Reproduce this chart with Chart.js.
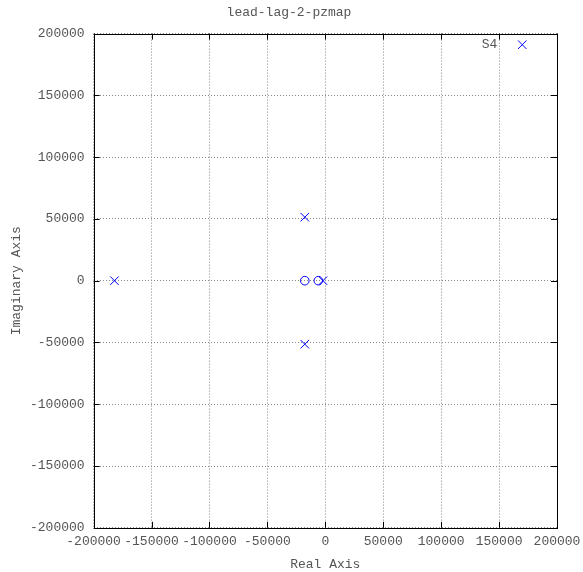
<!DOCTYPE html>
<html><head><meta charset="utf-8">
<script src="https://cdn.jsdelivr.net/npm/chart.js@4"></script>
<style>html,body{margin:0;padding:0;background:#fff}</style>
</head><body>
<canvas id="c" width="583" height="572"></canvas>
<script>
const chartTitle = 'lead-lag-2-pzmap';
const xTitle = 'Real Axis';
const yTitle = 'Imaginary Axis';
const poleReal = [-182000, -17700, -17700, -2000, 170000];
const poleImag = [0, 51400, -51400, 0, 191000];
const zeroReal = [-17700, -6000];
const zeroImag = [0, 0];
const axisTicks = [-200000, -150000, -100000, -50000, 0, 50000, 100000, 150000, 200000];
const pointLabels = [{x: 170000, y: 191000, text: 'S4'}];

const FONT = 'Liberation Mono';
const TXT = '#555555';

const poles = poleReal.map((x, i) => ({x, y: poleImag[i]}));
const zeros = zeroReal.map((x, i) => ({x, y: zeroImag[i]}));

const frame = {
  id: 'frame',
  afterDatasetsDraw(chart) {
    const {ctx, chartArea: a, scales: {x, y}} = chart;
    ctx.save();
    ctx.strokeStyle = '#000';
    ctx.lineWidth = 1;
    ctx.beginPath();
    const L = 6;
    axisTicks.forEach(v => {
      const px = Math.round(x.getPixelForValue(v)) + 0.5;
      ctx.moveTo(px, a.bottom); ctx.lineTo(px, a.bottom - L);
      ctx.moveTo(px, a.top); ctx.lineTo(px, a.top + L);
      const py = Math.round(y.getPixelForValue(v)) + 0.5;
      ctx.moveTo(a.left, py); ctx.lineTo(a.left + L, py);
      ctx.moveTo(a.right, py); ctx.lineTo(a.right - L, py);
    });
    ctx.stroke();
    ctx.strokeRect(Math.round(a.left) + 0.5, Math.round(a.top) + 0.5,
      Math.round(a.right - a.left), Math.round(a.bottom - a.top));
    ctx.fillStyle = TXT;
    ctx.font = '13px "' + FONT + '"';
    ctx.textAlign = 'right';
    ctx.textBaseline = 'middle';
    pointLabels.forEach(p => {
      ctx.fillText(p.text, x.getPixelForValue(p.x) - 25, y.getPixelForValue(p.y));
    });
    // y axis title
    ctx.translate(17, (a.top + a.bottom) / 2);
    ctx.rotate(-Math.PI / 2);
    ctx.textAlign = 'center';
    ctx.fillText(yTitle, 0, 0);
    ctx.restore();
  }
};

const tickFmt = v => String(v);

new Chart(document.getElementById('c'), {
  type: 'scatter',
  data: {
    datasets: [
      {label: 'poles', data: poles, pointStyle: 'crossRot', pointRadius: 6,
       borderColor: '#0000ff', backgroundColor: '#0000ff', borderWidth: 1, pointHoverRadius: 6},
      {label: 'zeros', data: zeros, pointStyle: 'circle', pointRadius: 4.3,
       borderColor: '#0000ff', backgroundColor: 'rgba(0,0,0,0)', borderWidth: 1, pointHoverRadius: 4.3}
    ]
  },
  options: {
    responsive: false,
    animation: false,
    devicePixelRatio: 1,
    layout: {padding: {left: 21, right: 26, top: 0, bottom: 0}},
    plugins: {
      legend: {display: false},
      tooltip: {enabled: false},
      title: {display: true, text: chartTitle, color: TXT,
        font: {family: FONT, size: 13, weight: 'normal'}, padding: {top: 5, bottom: 13}}
    },
    scales: {
      x: {
        type: 'linear', min: -200000, max: 200000,
        afterBuildTicks: s => { s.ticks = axisTicks.map(v => ({value: v})); },
        afterFit: s => { s.paddingRight = 0; },
        ticks: {callback: tickFmt, color: TXT, font: {family: FONT, size: 13}, maxRotation: 0, autoSkip: false, padding: 6},
        grid: {color: '#888', lineWidth: 1, drawTicks: false},
        border: {display: false, dash: [1, 2]},
        title: {display: true, text: xTitle, color: TXT, font: {family: FONT, size: 13}, padding: {top: 1, bottom: 0}}
      },
      y: {
        type: 'linear', min: -200000, max: 200000,
        afterBuildTicks: s => { s.ticks = axisTicks.map(v => ({value: v})); },
        ticks: {callback: tickFmt, color: TXT, font: {family: FONT, size: 13}, autoSkip: false, padding: 9},
        grid: {color: '#888', lineWidth: 1, drawTicks: false},
        border: {display: false, dash: [1, 2]},
        title: {display: false}
      }
    }
  },
  plugins: [frame]
});
</script>
</body></html>
